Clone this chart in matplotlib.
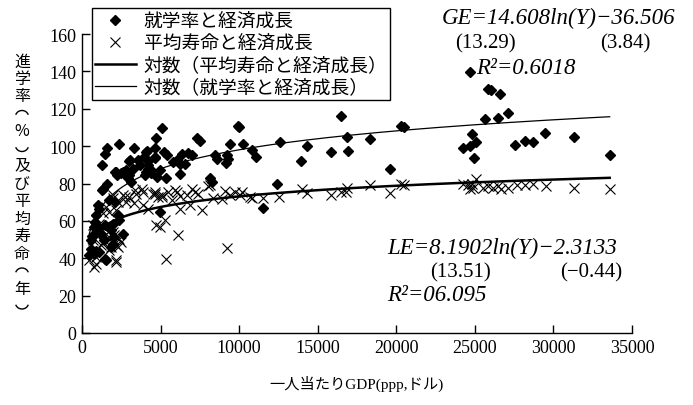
import numpy as np
import matplotlib
matplotlib.use("Agg")
import matplotlib.pyplot as plt
from matplotlib.lines import Line2D
from matplotlib.patches import Arc

CJK = ["Liberation Serif", "Noto Sans CJK JP"]

# 就学率 (GE) vs GDP per capita
ge_x = [9900, 10850, 11070, 11530, 12420, 12590, 13930, 14290, 15840, 16500, 16870, 16900,
        18320, 19590, 20330, 20480, 24250, 24680, 25060, 24720, 24850, 24950, 25630, 25840,
        26000, 26630, 26480, 27110, 27540, 28220, 28700, 29490, 31310, 33580,
        5070, 4690, 9990, 7290, 7500, 9410, 10260, 5230, 5390, 6340, 6760, 6980, 8460, 8560,
        9200, 9270, 9140, 5810, 6020, 6230, 6550, 4640, 4960, 6230, 5340, 8140, 8250, 4960,
        1570, 1480, 2330, 3330, 4070, 3960, 1270, 3010, 3540, 4180, 4660, 2160, 2480, 2800,
        3010, 4180, 4390, 4070, 3120, 1570, 1270, 1740, 2120, 1000, 1100, 890, 850, 780,
        2270, 2370, 1950, 640, 570, 850, 1840, 2050, 2590, 890, 570, 1100, 780, 1480, 460,
        1000, 1210, 1420, 1950, 1840, 680, 1530, 4110, 4640, 3050, 3690, 3260, 2630, 2100,
        2210, 2840, 2950, 4010, 4220, 4370, 4750, 1320, 1460]
ge_y = [111, 98, 94, 67, 80, 102, 92, 100, 97, 116, 105, 97.5,
        104, 88, 111, 110, 99, 100, 102, 139.5, 106.5, 93.5, 114.5, 130.5,
        130, 128, 115, 117.5, 100.5, 103, 102, 107, 105, 95,
        109.5, 104.5, 110, 104.5, 103, 101, 101, 97, 95, 95.6, 96.4, 95.2, 95, 93,
        95, 93, 91, 91.6, 92.5, 90.7, 90.2, 93.4, 87, 85, 83, 82.7, 81, 65,
        99, 96, 101, 99, 96.6, 94.3, 90, 92, 92.5, 92, 94.3, 86, 85.4, 87,
        84.8, 89.8, 87, 86, 81, 79.5, 76.4, 71, 70, 68.3, 66.6, 63, 59.4, 56.7,
        63, 60.3, 58.5, 52, 49.6, 53, 55, 51.3, 53, 44, 45, 43.3, 42.4, 39.7, 41.5,
        55.8, 53, 49.6, 47.8, 46, 43.3, 38.8, 97.3, 98.8, 92.5, 89.8, 88, 86, 86,
        84.5, 84.5, 82.7, 84.5, 88, 85.4, 83.5, 77.3, 57.6]

# 平均寿命 (LE) vs GDP per capita
le_x = [10850, 11530, 12550, 13970, 14290, 15840, 16500, 16870, 16770, 18320, 19590, 20330,
        20480, 24250, 24570, 24790, 25060, 24680, 24890, 25520, 25840, 26160, 26480, 26690,
        27110, 27650, 28170, 28700, 29510, 31310, 33580,
        6980, 8030, 9100, 9410, 10200, 10680, 5910, 5490, 4640, 5070, 6230, 6660, 7400, 8350,
        8890, 6230, 6870, 7610, 5280, 4960, 6090, 9200, 5320, 7190, 8140, 9730, 10050,
        2590, 3010, 3430, 3860, 4500, 4810, 1950, 2270, 2800, 3330, 3860, 4180, 1530, 1740,
        2160, 1320, 4710, 1210, 890, 1530, 2050, 680, 1320, 1740, 2370, 1840, 2270, 2160,
        890, 1950, 2480, 2160, 1210, 1740, 890, 2160, 780, 460, 890, 680, 1100,
        2000, 2730, 3370, 3800, 4640, 5070, 5700, 6020]
le_y = [72, 72.3, 73, 77.3, 75, 73.7, 75.2, 77.7, 75.5, 79, 75, 79.5,
        79, 79.5, 79, 80, 82.3, 77.3, 77.7, 77.7, 78.8, 77.7, 78.8, 77.3,
        77.7, 79.1, 79.1, 79.5, 78.8, 77.7, 77,
        77.3, 78.8, 76, 74, 75.5, 72.8, 76.4, 75.5, 74.6, 72.8, 73.4, 73.7, 74.6, 72,
        71.6, 66.6, 68.3, 65.7, 60.3, 56.7, 52.6, 45.5, 39.4, 75.5, 79, 75.5, 73.7,
        74, 72.8, 74.6, 75.5, 74.6, 72.8, 72, 70, 70, 69.3, 68.3, 66.6, 67.5, 64.8,
        65.7, 64, 57.6, 55.8, 54, 53.2, 52.2, 49.6, 48.6, 50.5, 50.5, 46, 46, 38.8,
        37, 54, 48.6, 47, 47, 44.2, 40.6, 37.9, 35.3, 38.8, 60.3, 57.6, 58.5,
        73.7, 72.8, 76.4, 77.3, 75.5, 73.7, 71, 75.5]

# logarithmic trend coefficients shown on the chart
ge_a, ge_b = 14.608, -36.506
le_a, le_b = 8.1902, -2.3133

x_ticks = list(range(0, 35001, 5000))
y_ticks = list(range(0, 161, 20))

fig = plt.figure(figsize=(6.93, 4.06), dpi=100)
ax = fig.add_axes([82 / 693, 72 / 406, 550 / 693, 299 / 406])

ax.plot(ge_x, ge_y, linestyle="none", marker="D", markersize=4.8, color="black", zorder=3)
ax.plot(le_x, le_y, linestyle="none", marker="x", markersize=6.5, markeredgewidth=0.8,
        color="black", zorder=3)

xs = np.linspace(min(ge_x), max(ge_x), 200)
ax.plot(xs, ge_a * np.log(xs) + ge_b, color="black", lw=0.9, zorder=4)
xs = np.linspace(min(le_x), max(le_x), 200)
ax.plot(xs, le_a * np.log(xs) + le_b, color="black", lw=1.8, zorder=4)

ax.set_xlim(0, 35000)
ax.set_ylim(0, 160)
ax.set_xticks(x_ticks)
ax.set_yticks(y_ticks)
ax.tick_params(direction="in", length=6, width=1, labelsize=13, pad=4)
for lab in ax.get_xticklabels() + ax.get_yticklabels():
    lab.set_fontfamily("Liberation Serif")
for side in ("top", "right"):
    ax.spines[side].set_visible(False)
for side in ("left", "bottom"):
    ax.spines[side].set_linewidth(1)

ax.set_xlabel("一人当たりGDP(ppp,ドル)", family=CJK, fontsize=11, labelpad=14)

# vertical y label, one character per row; brackets drawn as sideways arcs
ylabel = "進学率(%)及び平均寿命(年)"
step = 17.5
for i, ch in enumerate(ylabel):
    y = 1 - (62 + i * step) / 406
    if ch in "()":
        dy = -3 / 406 if ch == "(" else 3 / 406
        th = (25, 155) if ch == "(" else (205, 335)
        fig.add_artist(Arc((22 / 693, y + dy), 13 / 693, 12 / 406, theta1=th[0],
                           theta2=th[1], transform=fig.transFigure, color="black", lw=1))
    else:
        fig.text(22 / 693, y, ch, family=["Noto Sans CJK JP"], fontsize=11.5,
                 ha="center", va="center")

handles = [
    Line2D([], [], linestyle="none", marker="D", markersize=4.8, color="black"),
    Line2D([], [], linestyle="none", marker="x", markersize=6.5, markeredgewidth=0.8, color="black"),
    Line2D([], [], color="black", lw=1.8),
    Line2D([], [], color="black", lw=0.9),
]
labels = ["就学率と経済成長", "平均寿命と経済成長", "対数（平均寿命と経済成長）", "対数（就学率と経済成長）"]
leg = fig.legend(handles, labels, loc="upper left", bbox_to_anchor=(92 / 693, 1 - 9 / 406),
                 prop={"family": "Noto Sans CJK JP", "size": 13.5}, frameon=True,
                 fancybox=False, edgecolor="black", framealpha=1, borderpad=0.15,
                 labelspacing=0.05, handlelength=2.2, handletextpad=0.4, borderaxespad=0)
leg.get_frame().set_linewidth(1)

ital = {"family": "Liberation Serif", "style": "italic", "fontsize": 16.5}
upr = {"family": "Liberation Serif", "fontsize": 15}
fig.text(442 / 693, 1 - 18 / 406, "GE=14.608ln(Y)−36.506", va="center", **ital)
fig.text(455 / 693, 1 - 44 / 406, "(13.29)", va="center", **upr)
fig.text(600 / 693, 1 - 44 / 406, "(3.84)", va="center", **upr)
fig.text(476 / 693, 1 - 69 / 406, "R²=0.6018", va="center", **ital)
fig.text(387 / 693, 1 - 248 / 406, "LE=8.1902ln(Y)−2.3133", va="center", **ital)
fig.text(430 / 693, 1 - 273 / 406, "(13.51)", va="center", **upr)
fig.text(560 / 693, 1 - 273 / 406, "(−0.44)", va="center", **upr)
fig.text(387 / 693, 1 - 296 / 406, "R²=06.095", va="center", **ital)

fig.savefig("out.png", dpi=100)
